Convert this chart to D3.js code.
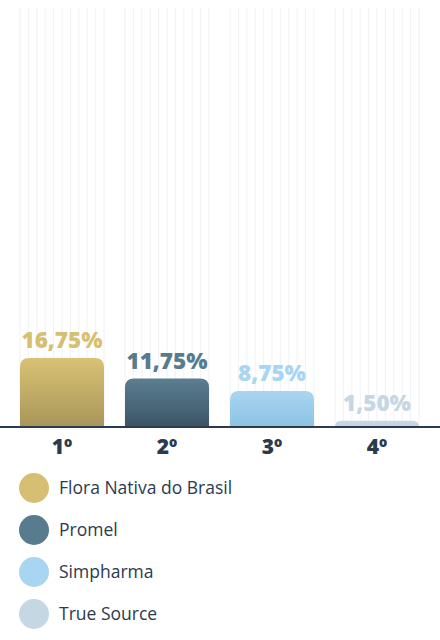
<!DOCTYPE html>
<html><head><meta charset="utf-8">
<script src="https://cdn.jsdelivr.net/npm/d3@7"></script>
<style>html,body{margin:0;padding:0;background:#fff;}svg{display:block;}</style>
</head><body>
<svg id="chart" width="440" height="640"></svg>
<script>
const categories = ["1º", "2º", "3º", "4º"];
const companies = ["Flora Nativa do Brasil", "Promel", "Simpharma", "True Source"];
const values = [16.75, 11.75, 8.75, 1.50];
const valueLabels = ["16,75%", "11,75%", "8,75%", "1,50%"];
const colorsTop = ["#d9c274", "#5b7e91", "#a9d5f1", "#c9d9e5"];
const colorsBottom = ["#a8955a", "#3c5465", "#8ec2e3", "#c2d3df"];
const legendColors = ["#d6bf72", "#587b8e", "#a8d5f1", "#c5d7e3"];

const svg = d3.select("#chart");
const W = 440, baseY = 427, topY = 15;
const x = d3.scaleBand().domain(categories).range([15, 424]).paddingInner(0.2).paddingOuter(0.0476);
const y = d3.scaleLinear().domain([0, 100]).range([baseY, topY]);

const defs = svg.append("defs");
categories.forEach((c, i) => {
  const g = defs.append("linearGradient").attr("id", "g" + i).attr("x1", 0).attr("x2", 0).attr("y1", 0).attr("y2", 1);
  g.append("stop").attr("offset", "0%").attr("stop-color", colorsTop[i]);
  g.append("stop").attr("offset", "100%").attr("stop-color", colorsBottom[i]);
});

// faint vertical background lines in each band
const bg = svg.append("g");
categories.forEach(c => {
  const x0 = x(c), bw = x.bandwidth();
  const n = 10;
  for (let k = 0; k <= n; k++) {
    const xx = x0 + bw * k / n;
    bg.append("line").attr("x1", xx).attr("x2", xx).attr("y1", 8).attr("y2", baseY)
      .attr("stroke", "#f2f3f4").attr("stroke-width", 1.1);
  }
});

// bars with rounded top corners
const r = 9;
categories.forEach((c, i) => {
  const x0 = x(c), bw = x.bandwidth(), y0 = y(values[i]), h = baseY - y0;
  const rr = Math.min(r, h);
  const p = `M${x0},${baseY} V${y0 + rr} Q${x0},${y0} ${x0 + rr},${y0} H${x0 + bw - rr} Q${x0 + bw},${y0} ${x0 + bw},${y0 + rr} V${baseY} Z`;
  svg.append("path").attr("d", p).attr("fill", `url(#g${i})`);
  svg.append("text").attr("x", x0 + bw / 2).attr("y", y0 - 10)
    .attr("text-anchor", "middle")
    .attr("font-family", "'Open Sans', sans-serif").attr("font-weight", 800)
    .attr("font-size", 22.5).attr("fill", legendColors[i]).text(valueLabels[i]);
});

// axis
const axis = svg.append("g").attr("transform", `translate(0,${baseY})`)
  .call(d3.axisBottom(x).tickSize(0).tickPadding(12));
axis.select(".domain").remove();
axis.selectAll("text").attr("font-family", "'Open Sans', sans-serif").attr("font-weight", 800)
  .attr("font-size", 21).attr("fill", "#2b3a4f").attr("dy", "0.71em");
svg.append("line").attr("x1", 0).attr("x2", W).attr("y1", baseY).attr("y2", baseY)
  .attr("stroke", "#2b3a4f").attr("stroke-width", 2);

// legend
const legend = svg.append("g");
companies.forEach((name, i) => {
  const cy = 488 + i * 42;
  legend.append("circle").attr("cx", 34).attr("cy", cy).attr("r", 15).attr("fill", legendColors[i]);
  legend.append("text").attr("x", 59).attr("y", cy).attr("dy", "0.35em")
    .attr("font-family", "'Open Sans', sans-serif").attr("font-size", 17.5)
    .attr("fill", "#2b3a4f").text(name);
});
</script>
</body></html>
